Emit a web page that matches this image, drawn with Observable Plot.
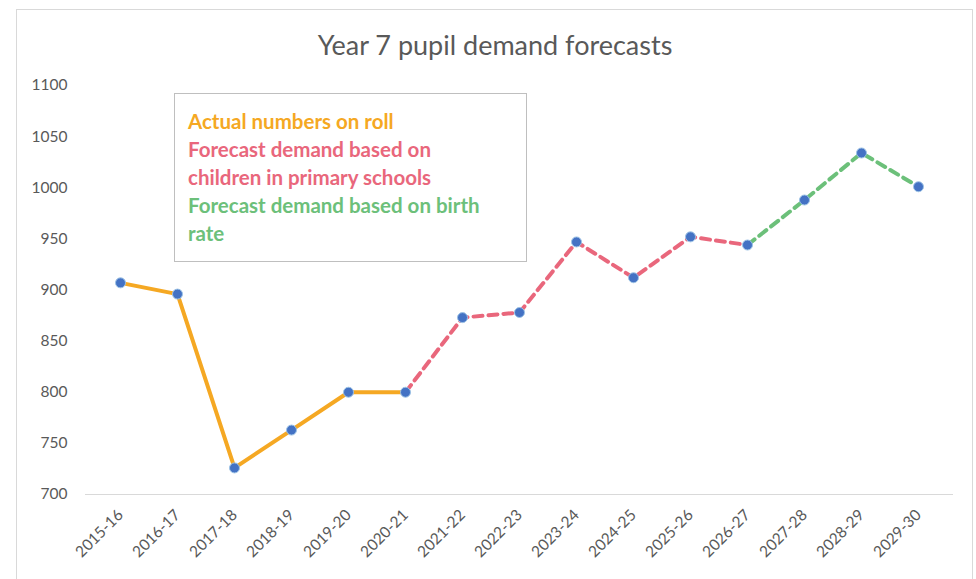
<!DOCTYPE html>
<html>
<head>
<meta charset="utf-8">
<script src="https://cdn.jsdelivr.net/npm/d3@7"></script>
<script src="https://cdn.jsdelivr.net/npm/@observablehq/plot@0.6"></script>
<style>
  html, body { margin: 0; padding: 0; background: #fff; }
  #wrap { position: relative; width: 976px; height: 579px; overflow: hidden; font-family: Lato, "Open Sans", sans-serif; }
  #frame { position: absolute; left: 16px; top: 9px; width: 957px; height: 600px; border: 1px solid #d9d9d9; box-sizing: border-box; }
  #title { position: absolute; left: 0; width: 990px; top: 28px; text-align: center; font-size: 27px; color: #595959; }
  #chart { position: absolute; left: 0; top: 0; }
  #legend { position: absolute; left: 174px; top: 93px; width: 353px; height: 169px; border: 1px solid #bfbfbf; box-sizing: border-box; background: #fff; padding: 13px 0 0 13px; font-weight: bold; font-size: 20.5px; line-height: 28px; }
</style>
</head>
<body>
<div id="wrap">
  <div id="frame"></div>
  <div id="chart"></div>
  <div id="title">Year 7 pupil demand forecasts</div>
  <div id="legend"></div>
</div>
<script>
const years = ["2015-16","2016-17","2017-18","2018-19","2019-20","2020-21","2021-22","2022-23","2023-24","2024-25","2025-26","2026-27","2027-28","2028-29","2029-30"];
const pupils = [907, 896, 726, 763, 800, 800, 873, 878, 947, 912, 952, 944, 988, 1034, 1001];
const yTicks = [700, 750, 800, 850, 900, 950, 1000, 1050, 1100];
const seriesNames = ["Actual numbers on roll", "Forecast demand based on children in primary schools", "Forecast demand based on birth rate"];
const seriesRanges = [["2015-16", "2020-21"], ["2020-21", "2026-27"], ["2026-27", "2029-30"]];
const seriesColors = ["#F5A823", "#E9677C", "#6CC07A"];
const legendLines = [["Actual numbers on roll", 0], ["Forecast demand based on", 1], ["children in primary schools", 1], ["Forecast demand based on birth", 2], ["rate", 2]];

const rows = years.map((y, i) => ({year: y, value: pupils[i]}));
const seg = ([a, b]) => rows.slice(years.indexOf(a), years.indexOf(b) + 1);

const chart = Plot.plot({
  width: 976,
  height: 579,
  marginLeft: 85,
  marginRight: 23,
  marginTop: 85,
  marginBottom: 85,
  style: {fontFamily: "Lato, 'Open Sans', sans-serif", fontSize: "15.5px", color: "#595959", background: "transparent"},
  x: {type: "point", domain: years, padding: 0.5, label: null},
  y: {domain: [700, 1100], label: null},
  marks: [
    Plot.ruleY([700], {stroke: "#d9d9d9", strokeWidth: 1.2}),
    Plot.axisY({ticks: yTicks, tickFormat: d3.format("d"), tickSize: 0, tickPadding: 18, label: null, fill: "#595959"}),
    Plot.axisX({tickRotate: -45, tickSize: 0, tickPadding: 18, label: null, fill: "#595959"}),
    Plot.line(seg(seriesRanges[0]), {x: "year", y: "value", stroke: seriesColors[0], strokeWidth: 4}),
    Plot.line(seg(seriesRanges[1]), {x: "year", y: "value", stroke: seriesColors[1], strokeWidth: 4, strokeDasharray: "9,6"}),
    Plot.line(seg(seriesRanges[2]), {x: "year", y: "value", stroke: seriesColors[2], strokeWidth: 4, strokeDasharray: "9,6"}),
    Plot.dot(rows, {x: "year", y: "value", r: 5, fill: "#4472C4", stroke: "#9DC3E6", strokeWidth: 1})
  ]
});
document.getElementById("chart").appendChild(chart);

const lg = document.getElementById("legend");
legendLines.forEach(([t, k]) => {
  const d = document.createElement("div");
  d.textContent = t;
  d.style.color = seriesColors[k];
  lg.appendChild(d);
});
</script>
</body>
</html>
